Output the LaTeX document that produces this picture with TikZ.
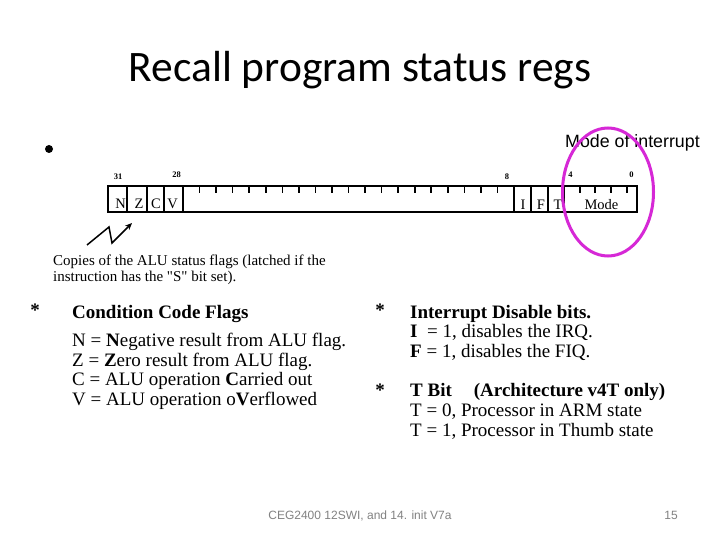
\documentclass[tikz,border=0pt]{standalone}
\usepackage{fontspec}
\setmainfont{Liberation Serif}[Ligatures=TeXOff]
\newfontfamily\titlefont{Carlito}
\newfontfamily\arialfont{Liberation Sans}
\usepackage{tikz}
\usetikzlibrary{positioning,arrows.meta}
\definecolor{ringpink}{RGB}{214,40,214}
\definecolor{footgray}{RGB}{130,130,130}
\tikzset{
  reg/.style     = {line width=2pt},
  bittick/.style = {line width=1.6pt},
  bitnum/.style  = {font=\bfseries\fontsize{8.5}{8.5}\selectfont, inner sep=0pt, anchor=base},
  flagtxt/.style = {font=\fontsize{14.5}{14.5}\selectfont, inner sep=0pt, anchor=base},
  body/.style    = {align=left, anchor=north west, inner sep=0pt, font=\fontsize{19}{19.5}\selectfont},
  star/.style    = {font=\bfseries\fontsize{19}{19}\selectfont, inner sep=0pt, anchor=base},
  foot/.style    = {font=\arialfont\fontsize{12}{12}\selectfont, text=footgray, inner sep=0pt, anchor=base},
}
\newcommand{\fsz}[2]{\fontsize{#1}{#2}\selectfont}

\begin{document}
\begin{tikzpicture}[x=1pt, y=-1pt]
  \useasboundingbox[fill=white] (0,0) rectangle (720,540);
  \node[anchor=base, inner sep=0pt, font=\titlefont\fsz{43.5}{43.5}] (title) at (360,82) {Recall program status regs};

  % bullet and label
  \fill (49,149) circle (4);
  \node[anchor=base west, inner sep=0pt, font=\arialfont\fsz{17.8}{17.8}] (modelab) at (565,148) {Mode of interrupt};

  % the register
  \draw[reg] (108,186) rectangle (637,212);
  \foreach \x in {127,147,164,183,514,531,548,564}
    \draw[reg] (\x,186) -- (\x,212);
  \foreach \k in {1,...,19}
    \draw[bittick] ({183+16.55*\k},186) -- ++(0,7);
  \foreach \x in {580,595,611,627}
    \draw[bittick] (\x,186) -- ++(0,7);

  \node[bitnum] (b31) at (118,180) {31};
  \node[bitnum] (b28) at (176.5,178) {28};
  \node[bitnum] (b8)  at (507,180) {8};
  \node[bitnum] (b4)  at (570.5,178) {4};
  \node[bitnum] (b0)  at (631.5,178) {0};

  \node[flagtxt] (fn) at (120.5,208) {N};
  \node[flagtxt] (fz) at (139,208) {Z};
  \node[flagtxt] (fc) at (156,208) {C};
  \node[flagtxt] (fv) at (172.5,208) {V};
  \node[flagtxt] (fi) at (523,210) {I};
  \node[flagtxt] (ff) at (541,210) {F};
  \node[flagtxt] (ft) at (558,210) {T};
  \node[flagtxt] (fmode) at (601.5,210) {Mode};

  \draw[ringpink, line width=3pt] (608,192) ellipse [x radius=45.5, y radius=64];

  % zigzag arrow
  \draw[line width=1.5pt, -{Stealth[length=7pt, width=6pt]}] (87,245) -- (109,227) -- (112,243) -- (132,223);

  \node[anchor=north west, align=left, inner sep=0pt, font=\fsz{15}{16}] (copies) at (53,254.5)
    {Copies of the ALU status flags (latched if the\\instruction has the "S" bit set).};

  % flag descriptions
  \node[body] (ccf) at (72,305) {\textbf{Condition Code Flags}\\[9pt]
    N = \textbf{N}egative result from ALU flag.\\
    Z = \textbf{Z}ero result from ALU flag.\\
    C = ALU operation \textbf{C}arried out\\
    V = ALU operation o\textbf{V}erflowed};
  \node[star] (s1) at (35,316) {*};

  \node[body, font=\fsz{19}{19.6}] (intr) at (410,305) {\textbf{Interrupt Disable bits.}\\
    \textbf{I}\ \ = 1, disables the IRQ.\\
    \textbf{F} = 1, disables the FIQ.};
  \node[star] (s2) at (380,316) {*};

  \node[body, font=\fsz{19}{20}] (tbit) at (410,383) {\textbf{T Bit\hspace*{22pt}(Architecture v4T only)}\\
    T = 0, Processor in ARM state\\
    T = 1, Processor in Thumb state};
  \node[star] (s3) at (380,396) {*};

  \node[foot] (ftr) at (360,519) {CEG2400 12SWI, and 14. init V7a};
  \node[foot] (pg) at (671,519) {15};
\end{tikzpicture}
\end{document}
